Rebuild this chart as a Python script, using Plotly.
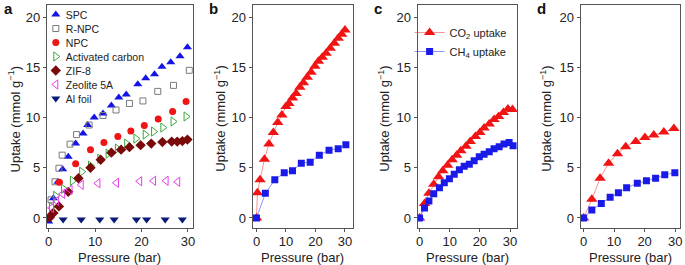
import plotly.graph_objects as go

# ---------------- data ----------------
# Panel a
spc_x = [0, 1.0, 2.0, 3.0, 4.2, 5.8, 7.4, 8.4, 9.8, 11.7, 13.5, 15.1, 16.7, 19.2, 20.9, 22.8, 24.4, 26.3, 28.3, 29.9]
spc_y = [-0.35, 1.95, 3.6, 4.85, 6.1, 7.4, 8.4, 9.25, 10.0, 10.4, 11.2, 12.0, 12.3, 13.3, 13.9, 14.3, 15.05, 15.5, 16.1, 17.0]
rnpc_x = [0.5, 1.35, 2.2, 2.9, 4.6, 6.0, 8.7, 11.7, 14.5, 17.4, 20.3, 23.5, 26.9, 30.3]
rnpc_y = [1.8, 3.6, 4.95, 6.25, 7.35, 8.3, 9.25, 10.2, 10.75, 11.4, 11.65, 12.6, 13.2, 14.7]
npc_x = [0.3, 2.3, 5.8, 9.0, 11.9, 14.9, 17.7, 20.6, 23.6, 26.7, 29.6]
npc_y = [0.2, 3.55, 5.4, 6.8, 7.5, 8.1, 8.65, 9.2, 9.85, 10.6, 11.6]
ac_x = [0.6, 1.5, 3.2, 5.1, 7.1, 9.0, 11.0, 12.8, 14.8, 16.8, 18.8, 20.8, 22.6, 24.6, 26.8, 29.6]
ac_y = [1.1, 2.2, 2.9, 3.7, 4.6, 5.2, 5.9, 6.4, 6.9, 7.4, 7.9, 8.3, 8.6, 9.0, 9.6, 10.1]
zif_x = [0.2, 1.0, 2.2, 4.2, 6.4, 9.0, 11.2, 13.5, 15.6, 17.4, 19.8, 22.1, 24.5, 26.5, 27.7, 28.8, 29.9]
zif_y = [0.05, 0.5, 1.15, 2.6, 3.95, 5.0, 5.8, 6.5, 6.8, 7.05, 7.25, 7.4, 7.55, 7.6, 7.6, 7.65, 7.8]
zeo_x = [0.6, 1.7, 3.0, 4.6, 7.0, 10.6, 14.6, 19.6, 22.6, 25.3, 27.8]
zeo_y = [1.0, 1.7, 2.4, 2.8, 3.3, 3.45, 3.5, 3.65, 3.7, 3.7, 3.6]
al_x = [3.1, 7.0, 11.0, 14.1, 18.9, 21.1, 25.1, 28.8]
al_y = [-0.15, -0.15, -0.15, -0.15, -0.15, -0.15, -0.15, -0.15]

# Panel b
b_co2_x = [0, 0.3, 1.2, 2.7, 4.2, 5.7, 7.2, 8.6, 10.0, 11.0, 12.2, 13.4, 14.7, 15.9, 17.2, 18.5, 19.8, 21.0, 22.3, 23.6, 25.0, 26.4, 27.7, 28.9, 30.0]
b_co2_y = [0, 2.5, 3.8, 5.85, 7.35, 8.5, 9.5, 10.25, 11.1, 11.4, 11.95, 12.4, 13.0, 13.45, 14.0, 14.5, 15.1, 15.6, 16.0, 16.4, 16.9, 17.4, 17.9, 18.3, 18.7]
b_ch4_x = [0, 3.0, 6.2, 9.4, 12.2, 15.2, 18.2, 21.3, 24.6, 27.7, 30.3]
b_ch4_y = [0, 2.45, 3.8, 4.5, 4.7, 5.45, 5.55, 6.25, 6.75, 6.9, 7.3]

# Panel c
c_co2_x = [0, 1.65, 3.1, 4.7, 6.3, 7.7, 9.3, 10.8, 12.3, 13.7, 15.4, 16.8, 18.5, 20.0, 21.4, 23.1, 24.7, 26.2, 27.8, 29.3, 30.8]
c_co2_y = [0, 1.45, 2.45, 3.35, 4.1, 4.7, 5.25, 5.8, 6.25, 6.7, 7.15, 7.6, 8.1, 8.5, 8.95, 9.35, 9.8, 10.1, 10.5, 10.85, 10.8]
c_ch4_x = [0, 1.65, 3.1, 4.7, 6.6, 8.2, 9.9, 11.5, 13.2, 14.8, 16.5, 18.1, 19.8, 21.4, 23.1, 24.7, 26.4, 28.0, 29.7, 31.0]
c_ch4_y = [0, 1.0, 1.7, 2.4, 3.0, 3.5, 3.9, 4.35, 4.8, 5.15, 5.35, 5.7, 6.1, 6.35, 6.6, 6.9, 7.1, 7.35, 7.5, 7.2]

# Panel d
d_co2_x = [0, 2.7, 5.4, 8.2, 11.1, 13.8, 17.1, 20.1, 23.0, 26.3, 29.6]
d_co2_y = [0, 1.85, 3.95, 5.45, 6.4, 7.1, 7.6, 8.0, 8.25, 8.55, 8.9]
d_ch4_x = [0, 2.7, 5.8, 8.7, 11.4, 14.1, 17.6, 20.6, 23.6, 26.6, 29.9]
d_ch4_y = [0, 0.8, 1.45, 2.05, 2.5, 3.0, 3.45, 3.7, 3.95, 4.3, 4.5]

x_ticks = [0, 10, 20, 30]
y_ticks = [0, 5, 10, 15, 20]
panel_letters = ["a", "b", "c", "d"]

# ---------------- style ----------------
FONT = "Liberation Sans, Arial, sans-serif"
RED = "#f01414"
BLUE = "#1a1ae8"
RED_LINE = "rgba(240,60,60,0.55)"
BLUE_LINE = "rgba(60,60,240,0.55)"

W, H = 685, 265
def px(x):
    return x / W
def py(y):
    return 1 - y / H

x_domains = [(45, 192), (252, 353), (418, 518), (582, 682)]
x_ranges = [[-0.43, 31.07], [-1.35, 32.7], [-0.66, 32.3], [-0.98, 31.6]]
y_dom = [py(228), py(5)]
y_range = [-1.0, 21.2]

fig = go.Figure()

def add(x, y, name, symbol, color, size, filled, axis, legend=None, line=None, show=True):
    xa = "x" if axis == 1 else f"x{axis}"
    ya = "y" if axis == 1 else f"y{axis}"
    if filled:
        mk = dict(symbol=symbol, size=size, color=color, line=dict(width=0))
    else:
        mk = dict(symbol=symbol, size=size, color=color, line=dict(color=color, width=1))
    kw = dict(x=x, y=y, name=name, xaxis=xa, yaxis=ya, marker=mk, showlegend=show)
    if line is None:
        kw["mode"] = "markers"
    else:
        kw["mode"] = "lines+markers"
        kw["line"] = dict(color=line, width=1)
    if legend:
        kw["legend"] = legend
    fig.add_trace(go.Scatter(**kw))

add(spc_x, spc_y, "SPC", "triangle-up", "#1414e6", 8, True, 1)
add(rnpc_x, rnpc_y, "R-NPC", "square-open", "#7a7a7a", 6, False, 1)
add(npc_x, npc_y, "NPC", "circle", "#f01414", 7, True, 1)
add(ac_x, ac_y, "Activated carbon", "triangle-right-open", "#3aa83a", 8, False, 1)
add(zif_x, zif_y, "ZIF-8", "diamond", "#7a0a0a", 8, True, 1)
add(zeo_x, zeo_y, "Zeolite 5A", "triangle-left-open", "#e83ce8", 8, False, 1)
add(al_x, al_y, "Al foil", "triangle-down", "#0a1a78", 8, True, 1)

add(b_co2_x, b_co2_y, "CO2 b", "triangle-up", RED, 10, True, 2, line=RED_LINE, show=False)
add(b_ch4_x, b_ch4_y, "CH4 b", "square", BLUE, 7, True, 2, line=BLUE_LINE, show=False)
add(c_co2_x, c_co2_y, "CO<sub>2</sub> uptake", "triangle-up", RED, 10, True, 3, legend="legend2", line=RED_LINE)
add(c_ch4_x, c_ch4_y, "CH<sub>4</sub> uptake", "square", BLUE, 7, True, 3, legend="legend2", line=BLUE_LINE)
add(d_co2_x, d_co2_y, "CO2 d", "triangle-up", RED, 10, True, 4, line=RED_LINE, show=False)
add(d_ch4_x, d_ch4_y, "CH4 d", "square", BLUE, 7, True, 4, line=BLUE_LINE, show=False)

axis_common = dict(showline=True, linecolor="#555", linewidth=1, mirror=True, showgrid=False,
                   zeroline=False, ticks="outside", ticklen=3, tickcolor="#555",
                   tickfont=dict(family=FONT, size=13, color="#222"))
layout = dict(width=W, height=H, margin=dict(l=0, r=0, t=0, b=0),
              paper_bgcolor="white", plot_bgcolor="white",
              font=dict(family=FONT, size=13, color="#222"))
annotations = []
for i in range(4):
    n = "" if i == 0 else str(i + 1)
    layout[f"xaxis{n}"] = dict(axis_common, domain=[px(x_domains[i][0]), px(x_domains[i][1])],
                               range=x_ranges[i], tickvals=x_ticks, anchor=f"y{n}",
                               ticklabelstandoff=-2)
    layout[f"yaxis{n}"] = dict(axis_common, domain=y_dom, range=y_range, tickvals=y_ticks,
                               anchor=f"x{n}")
    cx = (x_domains[i][0] + x_domains[i][1]) / 2
    annotations.append(dict(text="Pressure (bar)", x=px(cx), y=py(257), xref="paper", yref="paper",
                            showarrow=False, xanchor="center", yanchor="middle",
                            font=dict(family=FONT, size=13, color="#222")))
    ytx = [12.5, 219, 384, 547][i]
    annotations.append(dict(text="Uptake (mmol g<sup>−1</sup>)", x=px(ytx), y=py(119), xref="paper",
                            yref="paper", showarrow=False, textangle=-90, xanchor="center",
                            yanchor="middle", font=dict(family=FONT, size=13, color="#222")))
    lx = [7, 213, 378, 543][i]
    annotations.append(dict(text=f"<b>{panel_letters[i]}</b>", x=px(lx), y=py(9), xref="paper",
                            yref="paper", showarrow=False, xanchor="center", yanchor="middle",
                            font=dict(family=FONT, size=15, color="#111")))
layout["annotations"] = annotations
layout["legend"] = dict(x=px(34), y=1.0, xanchor="left", yanchor="top", bgcolor="rgba(0,0,0,0)",
                        font=dict(family=FONT, size=10.5, color="#222"), tracegroupgap=0,
                        borderwidth=0)
layout["legend2"] = dict(x=px(410), y=py(18), xanchor="left", yanchor="top", bgcolor="rgba(0,0,0,0)",
                         font=dict(family=FONT, size=11, color="#222"), borderwidth=0)
fig.update_layout(**layout)

# compact the panel-a legend rows (14 px pitch) and pull its labels closer to the symbols
post = """
document.body.style.margin='0';document.body.style.overflow='hidden';
var gd = document.getElementById('{plot_id}');
gd.querySelectorAll('g.legend rect.scrollbar').forEach(function(e){ e.style.display='none'; });
var items = gd.querySelectorAll('g.legend g.traces');
var y0 = null;
items.forEach(function(el, i){
  var t = el.getAttribute('transform') || '';
  var m = /translate\\(([^,\\s]+)[,\\s]+([^)]+)\\)/.exec(t);
  if (!m) return;
  var x = parseFloat(m[1]), y = parseFloat(m[2]);
  if (y0 === null) y0 = y;
  el.setAttribute('transform', 'translate(' + x + ',' + (y0 + i * 14) + ')');
  var tx = el.querySelector('text.legendtext');
  if (tx) tx.setAttribute('x', 30);
});
"""
fig.write_html("out.html", config={"displayModeBar": False}, post_script=post)
